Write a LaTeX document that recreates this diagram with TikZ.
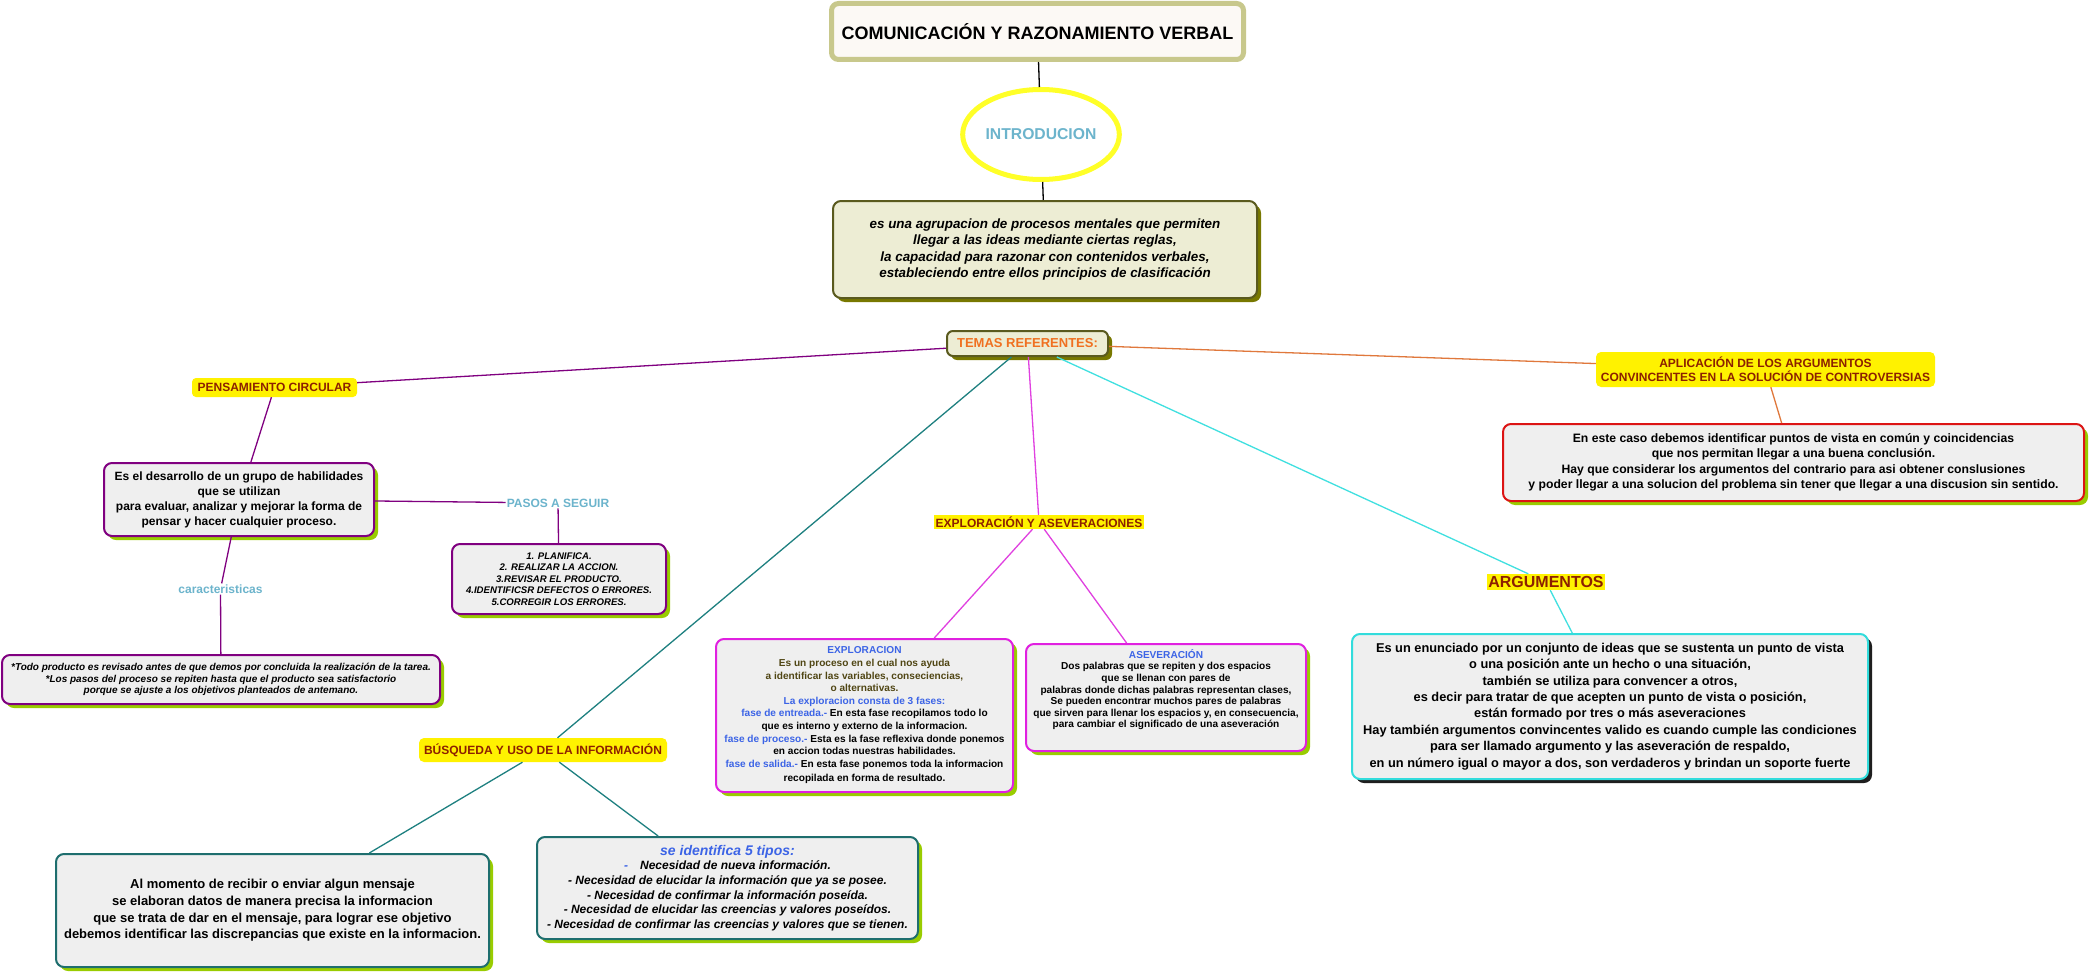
\documentclass[tikz,border=0pt]{standalone}
\usepackage{fontspec}
\setmainfont{Liberation Sans}
\usetikzlibrary{shapes.geometric,shadows}
\definecolor{titleline}{RGB}{200,200,140}
\definecolor{titlefill}{RGB}{252,249,245}
\definecolor{ringyellow}{RGB}{255,255,40}
\definecolor{skyblue}{RGB}{108,180,204}
\definecolor{beigefill}{RGB}{237,237,212}
\definecolor{beigeline}{RGB}{90,90,30}
\definecolor{shbeige}{RGB}{120,120,0}
\definecolor{shgreen}{RGB}{153,204,0}
\definecolor{shdark}{RGB}{30,30,30}
\definecolor{boxgrey}{RGB}{239,239,239}
\definecolor{temasorange}{RGB}{240,112,32}
\definecolor{tagred}{RGB}{140,32,0}
\definecolor{textblue}{RGB}{60,100,230}
\definecolor{olivetext}{RGB}{80,70,20}
\definecolor{penspurple}{RGB}{128,0,128}
\definecolor{boxmagenta}{RGB}{224,32,224}
\definecolor{boxcyan}{RGB}{50,220,220}
\definecolor{boxred}{RGB}{220,20,20}
\definecolor{boxteal}{RGB}{30,110,110}
\definecolor{lnteal}{RGB}{30,128,128}
\definecolor{lnmagenta}{RGB}{224,64,224}
\definecolor{lncyan}{RGB}{64,224,224}
\definecolor{lnorange}{RGB}{224,120,60}
\begin{document}
\begin{tikzpicture}[x=1pt,y=-1pt,
	greybox/.style={draw,fill=boxgrey,rounded corners=8pt,line width=2pt,align=center,inner sep=0pt,
		drop shadow={opacity=1,fill=#1,shadow xshift=4pt,shadow yshift=-4pt}},
	greybox/.default=shgreen,
	beigebox/.style={draw=beigeline,fill=beigefill,rounded corners=8pt,line width=2pt,align=center,inner sep=0pt,
		drop shadow={opacity=1,fill=shbeige,shadow xshift=4pt,shadow yshift=-4pt}},
	tagbox/.style={fill=yellow,text=tagred,align=center,inner sep=0pt,font=\fontsize{12}{14}\selectfont\bfseries},
	cue/.style={text=skyblue,inner sep=1pt,font=\fontsize{12}{14}\selectfont\bfseries},
	link/.style={line width=1.3pt}]
	\fill[white] (0,0) rectangle (2091,974);
	\useasboundingbox (0,0) rectangle (2091,974);
	\node[draw=titleline,fill=titlefill,line width=5pt,rounded corners=7pt,minimum width=412pt,minimum height=56pt,
		font=\fontsize{18}{20}\selectfont\bfseries] (title) at (1037.5,31.5) {COMUNICACIÓN Y RAZONAMIENTO VERBAL};
	\node[ellipse,draw=ringyellow,fill=white,line width=5pt,minimum width=147pt,minimum height=90pt,inner sep=0pt,
		text=skyblue,font=\fontsize{15.7}{18}\selectfont\bfseries] (intro) at (1041,134.5) {INTRODUCION};
	\node[beigebox,minimum width=424pt,minimum height=97pt,font=\fontsize{13.4}{16.5}\selectfont\bfseries\itshape] (def) at (1045,249.5)
		{es una agrupacion de procesos mentales que permiten\\llegar a las ideas mediante ciertas reglas,\\
		la capacidad para razonar con contenidos verbales,\\estableciendo entre ellos principios de clasificación};
	\node[beigebox,rounded corners=6pt,minimum width=161pt,minimum height=25pt,text=temasorange,
		font=\fontsize{13}{15}\selectfont\bfseries] (temas) at (1027.5,343.5) {TEMAS REFERENTES:};
	\node[tagbox,rounded corners=4pt,minimum width=165pt,minimum height=19pt] (pens) at (274.5,387.5) {PENSAMIENTO CIRCULAR};
	\node[greybox,draw=penspurple,minimum width=270pt,minimum height=73pt,font=\fontsize{12}{15}\selectfont\bfseries] (habil) at (239,499.5)
		{Es el desarrollo de un grupo de habilidades\\que se utilizan\\para evaluar, analizar y mejorar la forma de\\pensar y hacer cualquier proceso.};
	\node[cue] (pasos) at (558,503) {PASOS A SEGUIR};
	\node[greybox,draw=penspurple,minimum width=214pt,minimum height=70pt,font=\fontsize{9.6}{11.5}\selectfont\bfseries\itshape] (lista) at (559,579)
		{1. PLANIFICA.\\2. REALIZAR LA ACCION.\\3.REVISAR EL PRODUCTO.\\4.IDENTIFICSR DEFECTOS O ERRORES.\\5.CORREGIR LOS ERRORES.};
	\node[cue] (carac) at (220.5,589) {caracteristicas};
	\node[greybox,draw=penspurple,minimum width=438pt,minimum height=49pt,font=\fontsize{10}{11.5}\selectfont\bfseries\itshape] (tarea) at (221,679.5)
		{*Todo producto es revisado antes de que demos por concluida la realización de la tarea.\\
		*Los pasos del proceso se repiten hasta que el producto sea satisfactorio\\porque se ajuste a los objetivos planteados de antemano.};
	\node[tagbox,minimum width=210pt,minimum height=14pt] (explo) at (1039,522) {EXPLORACIÓN Y ASEVERACIONES};
	\node[greybox,draw=boxmagenta,minimum width=297pt,minimum height=153pt,font=\fontsize{10.1}{12.6}\selectfont\bfseries] (fases) at (864.5,715.5)
		{\textcolor{textblue}{EXPLORACION}\\
		\textcolor{olivetext}{Es un proceso en el cual nos ayuda}\\
		\textcolor{olivetext}{a identificar las variables, conseciencias,}\\
		\textcolor{olivetext}{o alternativas.}\\
		\textcolor{textblue}{La exploracion consta de 3 fases:}\\
		\textcolor{textblue}{fase de entreada.-} En esta fase recopilamos todo lo\\
		que es interno y externo de la informacion.\\
		\textcolor{textblue}{fase de proceso.-} Esta es la fase reflexiva donde ponemos\\
		en accion todas nuestras habilidades.\\
		\textcolor{textblue}{fase de salida.-} En esta fase ponemos toda la informacion\\[2pt]
		recopilada en forma de resultado.};
	\node[greybox,draw=boxmagenta,minimum width=280pt,minimum height=107pt,font=\fontsize{10.1}{11.6}\selectfont\bfseries] (asev) at (1166,697.5)
		{\textcolor{textblue}{ASEVERACIÓN}\\Dos palabras que se repiten y dos espacios\\que se llenan con pares de\\
		palabras donde dichas palabras representan clases,\\Se pueden encontrar muchos pares de palabras\\
		que sirven para llenar los espacios y, en consecuencia,\\para cambiar el significado de una aseveración\\[6pt]};
	\node[tagbox,minimum width=118pt,minimum height=16pt,font=\fontsize{16}{18}\selectfont\bfseries] (argu) at (1546,582) {ARGUMENTOS};
	\node[greybox=shdark,draw=boxcyan,minimum width=516pt,minimum height=145pt,font=\fontsize{12.8}{16.4}\selectfont\bfseries] (enun) at (1610,706.5)
		{Es un enunciado por un conjunto de ideas que se sustenta un punto de vista\\o una posición ante un hecho o una situación,\\
		también se utiliza para convencer a otros,\\es decir para tratar de que acepten un punto de vista o posición,\\
		están formado por tres o más aseveraciones\\Hay también argumentos convincentes valido es cuando cumple las condiciones\\
		para ser llamado argumento y las aseveración de respaldo,\\en un número igual o mayor a dos, son verdaderos y brindan un soporte fuerte};
	\node[tagbox,rounded corners=5pt,minimum width=339pt,minimum height=35pt] (aplic) at (1765.5,369.5)
		{APLICACIÓN DE LOS ARGUMENTOS\\CONVINCENTES EN LA SOLUCIÓN DE CONTROVERSIAS};
	\node[greybox,draw=boxred,minimum width=581pt,minimum height=77pt,font=\fontsize{12.2}{15.5}\selectfont\bfseries] (conv) at (1793.5,462.5)
		{En este caso debemos identificar puntos de vista en común y coincidencias\\que nos permitan llegar a una buena conclusión.\\
		Hay que considerar los argumentos del contrario para asi obtener conslusiones\\
		y poder llegar a una solucion del problema sin tener que llegar a una discusion sin sentido.};
	\node[tagbox,rounded corners=5pt,minimum width=248pt,minimum height=24pt] (busq) at (543,750) {BÚSQUEDA Y USO DE LA INFORMACIÓN};
	\node[greybox,draw=boxteal,minimum width=433pt,minimum height=113pt,font=\fontsize{13}{16.7}\selectfont\bfseries] (mensaje) at (272.5,910.5)
		{Al momento de recibir o enviar algun mensaje\\se elaboran datos de manera precisa la informacion\\
		que se trata de dar en el mensaje, para lograr ese objetivo\\debemos identificar las discrepancias que existe en la informacion.};
	\node[greybox,draw=boxteal,minimum width=381pt,minimum height=102pt,font=\fontsize{12}{14.7}\selectfont\bfseries\itshape] (tipos) at (727.5,888)
		{\textcolor{textblue}{\fontsize{14}{15}\selectfont se identifica 5 tipos:}\\
		\textcolor{textblue}{-}\quad Necesidad de nueva información.\\
		- Necesidad de elucidar la información que ya se posee.\\
		- Necesidad de confirmar la información poseída.\\
		- Necesidad de elucidar las creencias y valores poseídos.\\
		- Necesidad de confirmar las creencias y valores que se tienen.};
	\draw[link] (title) -- (intro);
	\draw[link] (intro) -- (def);
	\draw[link,penspurple] (temas) -- (pens);
	\draw[link,penspurple] (pens) -- (habil);
	\draw[link,penspurple] (habil) -- (pasos);
	\draw[link,penspurple] (pasos) -- (lista);
	\draw[link,penspurple] (habil) -- (carac);
	\draw[link,penspurple] (carac) -- (tarea);
	\draw[link,lnteal] (temas) -- (busq);
	\draw[link,lnteal] (busq) -- (mensaje);
	\draw[link,lnteal] (busq) -- (tipos);
	\draw[link,lnmagenta] (temas) -- (explo);
	\draw[link,lnmagenta] (explo) -- (fases);
	\draw[link,lnmagenta] (explo) -- (asev);
	\draw[link,lncyan] (temas) -- (argu);
	\draw[link,lncyan] (argu) -- (enun);
	\draw[link,lnorange] (temas) -- (aplic);
	\draw[link,lnorange] (aplic) -- (conv);
\end{tikzpicture}
\end{document}
